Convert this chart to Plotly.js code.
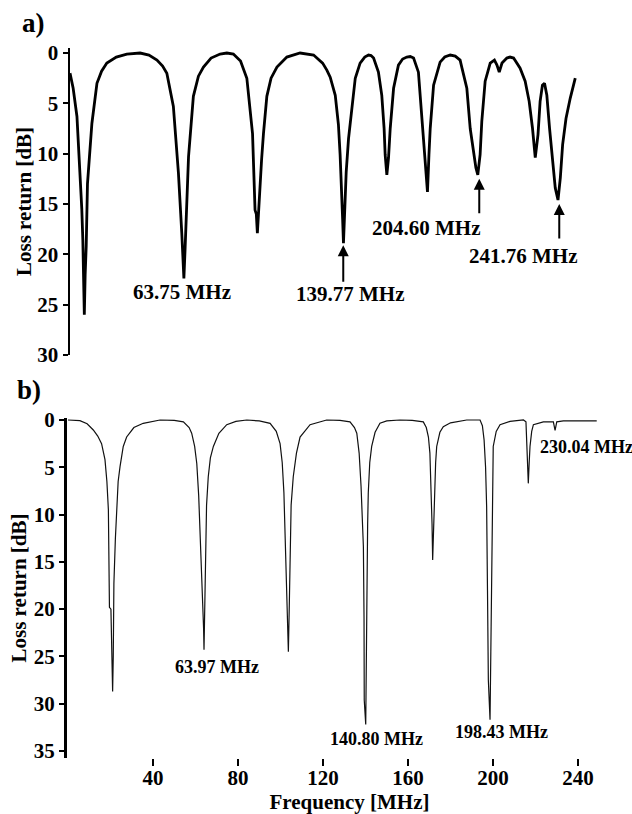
<!DOCTYPE html>
<html>
<head>
<meta charset="utf-8">
<script src="https://cdn.plot.ly/plotly-3.0.1.min.js"></script>
<style>html,body{margin:0;padding:0;background:#fff;}#chart{width:632px;height:814px;}</style>
</head>
<body>
<div id="chart"></div>
<script>
// Panel a) measured return loss (MHz, dB)
const freqA = [10.0,11.5,13.3,14.8,15.6,16.1,16.5,16.8,17.2,17.7,18.3,18.8,20.4,22.8,25.0,27.5,32.0,37.0,43.3,47.5,51.3,54.0,56.0,59.1,61.5,63.1,63.7,64.1,64.6,65.2,66.3,68.6,71.0,73.4,77.0,81.3,84.5,87.6,91.0,94.0,96.7,97.9,98.5,99.0,99.6,101.0,101.9,103.5,105.5,108.3,113.0,119.3,125.7,130.0,132.0,133.6,136.0,137.5,138.3,139.1,139.5,139.9,140.4,141.2,142.3,143.9,145.5,147.8,150.0,151.8,153.0,154.2,156.5,158.1,159.2,159.7,160.5,161.3,162.1,163.7,166.0,168.0,170.0,171.6,173.2,175.5,176.7,177.9,179.2,179.8,180.5,181.1,182.7,185.8,188.0,190.6,193.0,195.3,196.2,198.5,200.1,201.7,202.8,203.7,204.8,205.6,207.2,209.6,211.6,212.8,213.9,215.2,217.5,219.0,220.7,223.8,226.2,228.1,229.7,231.0,232.3,233.3,234.4,235.4,236.5,237.8,239.2,240.5,241.8,242.9,244.0,245.6,247.6,250.0];
const lossA = [2.0,3.5,6.3,11.9,15.5,18.6,23.5,26.0,22.0,19.2,13.0,11.6,7.0,3.0,1.8,1.0,0.4,0.1,0.0,0.2,0.7,1.3,2.0,5.3,11.9,17.9,20.5,22.4,19.8,16.9,10.3,4.3,2.3,1.4,0.5,0.1,0.0,0.1,0.8,2.5,8.0,15.6,16.0,17.9,15.5,10.6,8.0,4.3,2.5,1.4,0.4,0.0,0.2,1.0,1.7,2.4,4.2,7.1,10.1,13.4,16.5,18.9,16.0,11.8,8.5,5.2,2.5,1.0,0.4,0.2,0.25,0.5,1.9,4.2,7.5,10.1,12.1,10.4,7.5,3.5,1.2,0.6,0.4,0.35,0.5,1.9,5.2,7.8,11.8,13.8,10.1,7.5,3.2,0.9,0.4,0.2,0.3,0.7,1.5,3.5,7.5,9.8,11.4,12.1,10.1,6.8,2.8,1.0,0.7,1.2,1.9,1.0,0.5,0.4,0.5,1.5,2.8,4.8,7.5,10.4,8.1,4.8,3.2,3.0,4.2,7.5,10.8,13.4,14.6,12.4,9.1,6.5,4.5,2.5];

// Panel b) simulated return loss (MHz, dB)
const freqB = [0.0,5.6,9.0,11.9,14.0,15.8,17.4,18.3,19.0,19.3,19.5,20.2,20.5,21.0,21.3,21.6,22.3,22.9,23.6,24.5,26.0,27.6,31.0,35.4,43.3,50.0,54.3,57.0,58.2,59.6,60.6,61.5,62.1,62.9,63.4,63.8,64.0,64.3,64.6,65.2,66.0,67.0,68.4,71.0,74.7,79.0,84.1,90.0,95.1,98.0,99.8,100.8,101.6,102.3,102.9,103.4,103.7,104.1,104.5,105.0,106.0,107.5,109.2,113.9,121.7,128.0,132.7,134.8,135.9,137.0,137.9,139.0,139.3,139.4,140.1,140.4,140.6,141.0,141.3,142.0,142.9,144.5,146.8,150.0,156.2,162.0,167.2,168.6,169.6,170.3,170.8,171.3,171.6,172.0,172.4,173.0,173.5,175.0,176.6,180.0,187.6,193.9,195.0,195.8,196.5,197.0,197.4,197.8,198.6,199.0,199.4,199.7,200.1,201.5,203.3,208.0,214.3,215.5,216.1,216.6,217.0,217.4,218.2,219.0,223.7,228.4,229.2,230.0,233.1,248.8];
const lossB = [0.0,0.07,0.4,1.06,1.7,2.5,4.2,6.5,9.5,15.0,19.8,20.0,25.7,28.7,25.0,17.3,12.5,9.5,6.5,4.9,2.8,1.8,0.8,0.35,0.0,0.05,0.2,0.8,1.4,2.8,4.6,8.0,11.3,16.0,19.0,22.0,24.3,19.5,13.7,9.0,6.0,4.0,2.8,1.4,0.5,0.15,0.0,0.1,0.35,1.2,2.5,4.5,7.7,13.0,18.3,21.5,24.5,20.0,13.7,9.0,6.0,3.5,1.8,0.5,0.0,0.05,0.2,0.8,1.4,3.5,7.0,13.4,21.0,29.6,32.2,28.0,20.4,11.0,7.7,4.5,2.8,1.3,0.35,0.1,0.0,0.05,0.2,0.8,1.8,3.5,6.3,11.0,14.8,11.5,8.1,4.5,2.8,1.3,0.7,0.3,0.0,0.0,0.6,2.1,5.0,9.2,18.0,27.5,31.7,25.0,15.2,8.0,2.8,1.2,0.5,0.15,0.0,0.2,4.6,6.7,4.6,2.8,1.2,0.5,0.2,0.2,1.1,0.2,0.1,0.1];

// Tick values
const yTicksA = [0,5,10,15,20,25,30];
const yTicksB = [0,5,10,15,20,25,30,35];
const xTicksB = [40,80,120,160,200,240];

// Resonance labels
const labelsA = [
  {text:'63.75 MHz', x:63.3, y:23.7},
  {text:'139.77 MHz', x:142.8, y:23.9},
  {text:'204.60 MHz', x:179.2, y:17.4},
  {text:'241.76 MHz', x:225.3, y:20.2}
];
const arrowsA = [
  {x:139.8, y:19.1, ay:38},
  {x:204.4, y:12.5, ay:36},
  {x:242.4, y:15.0, ay:36}
];
const labelsB = [
  {text:'63.97 MHz', x:70.1, y:26.1, anchor:'center'},
  {text:'140.80 MHz', x:145.4, y:33.7, anchor:'center'},
  {text:'198.43 MHz', x:203.8, y:33.0, anchor:'center'},
  {text:'230.04 MHz', x:221.2, y:2.85, anchor:'left'}
];

const FONT = 'Liberation Serif, Times New Roman, serif';

const traces = [
  {x:freqA, y:lossA, xaxis:'x', yaxis:'y', mode:'lines', line:{color:'#000', width:2.8}, hoverinfo:'skip'},
  {x:freqB, y:lossB, xaxis:'x2', yaxis:'y2', mode:'lines', line:{color:'#111', width:1.2}, hoverinfo:'skip'}
];

const annotations = [];
labelsA.forEach(l => annotations.push({xref:'x', yref:'y', x:l.x, y:l.y, text:l.text, showarrow:false,
  xanchor:'center', yanchor:'middle',
  font:{family:FONT, size:21, color:'#000', weight:'bold'}}));
arrowsA.forEach(a => annotations.push({xref:'x', yref:'y', x:a.x, y:a.y, ax:0, ay:a.ay, text:'', showarrow:true,
  arrowhead:2, arrowsize:1.1, arrowwidth:2, arrowcolor:'#000'}));
labelsB.forEach(l => annotations.push({xref:'x2', yref:'y2', x:l.x, y:l.y, text:l.text, showarrow:false,
  xanchor:l.anchor, yanchor:'middle',
  font:{family:FONT, size:18, color:'#000', weight:'bold'}}));
annotations.push({xref:'paper', yref:'paper', x:33/632, y:1-23/814, text:'a)', showarrow:false,
  xanchor:'center', yanchor:'middle', font:{family:FONT, size:27, color:'#000', weight:'bold'}});
annotations.push({xref:'paper', yref:'paper', x:29/632, y:1-390/814, text:'b)', showarrow:false,
  xanchor:'center', yanchor:'middle', font:{family:FONT, size:27, color:'#000', weight:'bold'}});

const yCommon = {showgrid:false, zeroline:false, showline:true, linecolor:'#000', ticks:'outside', ticklen:5,
  tickwidth:2, tickcolor:'#000', tickfont:{family:FONT, size:21, color:'#000', weight:'bold'}, fixedrange:true};

const layout = {
  width:632, height:814,
  margin:{l:0, r:0, t:0, b:0},
  paper_bgcolor:'#fff', plot_bgcolor:'#fff',
  showlegend:false,
  font:{family:FONT, color:'#000'},
  xaxis:{domain:[70/632, 590/632], range:[10, 257.0], anchor:'y', visible:false, fixedrange:true},
  yaxis:Object.assign({}, yCommon, {domain:[1-355/814, 1-48/814], range:[30, -0.5], anchor:'x',
    linewidth:2.5, tickvals:yTicksA,
    title:{text:'Loss return [dB]', standoff:0, font:{family:FONT, size:21, color:'#000', weight:'bold'}}}),
  xaxis2:{domain:[67/632, 1], range:[-0.47, 265.4], anchor:'y2', showgrid:false, zeroline:false, showline:false,
    ticks:'outside', ticklen:7, tickwidth:1.5, tickcolor:'#000', tickvals:xTicksB, fixedrange:true,
    ticklabelstandoff:-6,
    tickfont:{family:FONT, size:21, color:'#000', weight:'bold'},
    title:{text:'Frequency [MHz]', standoff:4, font:{family:FONT, size:21, color:'#000', weight:'bold'}}},
  yaxis2:Object.assign({}, yCommon, {domain:[1-758/814, 1-418/814], range:[35.74, -0.21], anchor:'x2',
    linewidth:3, tickvals:yTicksB,
    title:{text:'Loss return [dB]', standoff:2, font:{family:FONT, size:21, color:'#000', weight:'bold'}}}),
  annotations:annotations
};

Plotly.newPlot('chart', traces, layout, {staticPlot:true, displayModeBar:false});
</script>
</body>
</html>
